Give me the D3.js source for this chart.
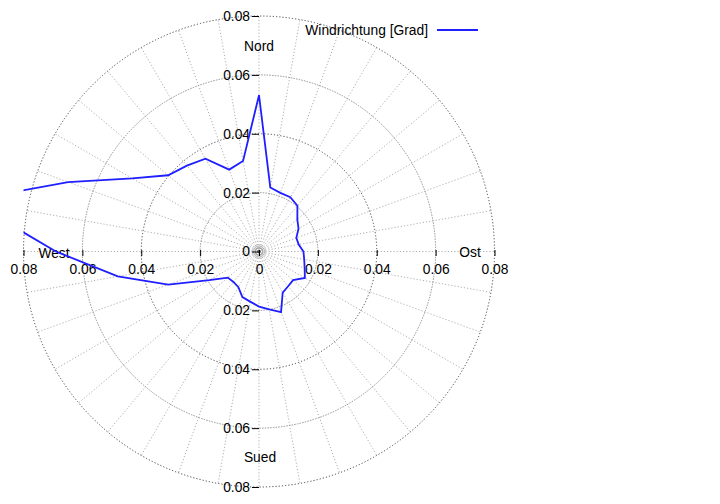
<!DOCTYPE html>
<html>
<head>
<meta charset="utf-8">
<script src="https://cdn.jsdelivr.net/npm/d3@7"></script>
<style>
    html, body { margin: 0; padding: 0; background: #fff; }
    svg { display: block; font-family: 'Liberation Sans', Arial, sans-serif; }
    .axis text { font-size: 13.8px; fill: #000; }
    .axis line { stroke: #000; }
</style>
</head>
<body>
<svg width="720" height="504"></svg>
<script>
// wind direction (degrees, clockwise from north) and relative frequency
const directions = [0, 10, 20, 30, 40, 50, 60, 70, 80, 90, 100, 110,
    120, 130, 140, 150, 160, 170, 180, 190, 200, 210, 220, 230,
    240, 250, 260, 270, 280, 290, 300, 310, 320, 330, 340, 350];
const frequency = [0.0531, 0.0221, 0.0212, 0.0213, 0.0203, 0.0170, 0.0155, 0.0135, 0.0137, 0.0151, 0.0156, 0.0165,
    0.0180, 0.0151, 0.0154, 0.0161, 0.0219, 0.0200, 0.0187, 0.0173, 0.0165, 0.0140, 0.0135, 0.0138,
    0.0195, 0.0328, 0.0487, 0.0690, 0.1000, 0.0690, 0.0497, 0.0403, 0.0381, 0.0364, 0.0296, 0.0312];
const ringTicks = [0.02, 0.04, 0.06, 0.08];
const axisTicks = [-0.08, -0.06, -0.04, -0.02, 0, 0.02, 0.04, 0.06, 0.08];
const compass = [
    {name: 'Nord', dx: 0, dy: -205},
    {name: 'Ost', dx: 211, dy: 0.5},
    {name: 'West', dx: -205, dy: 1.5},
    {name: 'Sued', dx: 1, dy: 206}
];
const seriesName = 'Windrichtung [Grad]';

(function () {
    'use strict'

    const cx = 259, cy = 251.5, R = 235.5, RMAX = 0.08;

    let svg = d3.select('svg');

    // r() maps frequency to pixel radius
    let r = d3.scaleLinear().domain([0, RMAX]).range([0, R]);
    // cartesian scales for the two axes through the centre
    let x = d3.scaleLinear().domain([-RMAX, RMAX]).range([cx - R, cx + R]);
    let y = d3.scaleLinear().domain([-RMAX, RMAX]).range([cy + R, cy - R]);

    svg.append('defs').append('clipPath')
        .attr('id', 'box')
        .append('rect')
        .attr('x', x(-RMAX)).attr('y', y(RMAX))
        .attr('width', x(RMAX) - x(-RMAX))
        .attr('height', y(-RMAX) - y(RMAX));

    let g = svg.append('g').attr('transform', 'translate(' + cx + ',' + cy + ')');

    // radial grid, every 10 degrees
    g.selectAll('line.spoke')
        .data(directions)
        .enter()
        .append('line')
        .attr('class', 'spoke')
        .attr('x1', 0).attr('y1', 0)
        .attr('x2', d => r(RMAX) * Math.sin(d * Math.PI / 180))
        .attr('y2', d => -r(RMAX) * Math.cos(d * Math.PI / 180))
        .style('stroke', '#9a9a9a')
        .style('stroke-width', 0.8)
        .style('stroke-dasharray', '1.2,2');

    g.selectAll('circle.ring')
        .data(ringTicks)
        .enter()
        .append('circle')
        .attr('class', 'ring')
        .attr('r', d => r(d))
        .style('fill', 'none')
        .style('stroke', (d, i) => i % 2 ? '#333' : '#888')
        .style('stroke-width', 0.9)
        .style('stroke-dasharray', (d, i) => i % 2 ? '1.2,2' : '1.5,1.2');

    // small rings around the origin
    g.selectAll('circle.hub')
        .data([1.5, 3.5, 5.5])
        .enter()
        .append('circle')
        .attr('r', d => d)
        .style('fill', 'none')
        .style('stroke', (d, i) => i ? '#999' : '#333')
        .style('stroke-width', 0.8);

    let fmt = d => d === 0 ? '0' : d3.format('.2f')(Math.abs(d));

    svg.append('g')
        .attr('class', 'axis')
        .attr('transform', 'translate(' + cx + ',0)')
        .call(d3.axisLeft(y).tickValues(axisTicks).tickFormat(fmt).tickSize(7).tickPadding(2))
        .call(a => a.select('.domain').remove());

    svg.append('g')
        .attr('class', 'axis')
        .attr('transform', 'translate(0,' + (cy - 1.5) + ')')
        .call(d3.axisBottom(x).tickValues(axisTicks).tickFormat(fmt).tickSize(6).tickPadding(8))
        .call(a => a.select('.domain').remove());

    g.selectAll('text.dir')
        .data(compass)
        .enter()
        .append('text')
        .attr('class', 'dir')
        .attr('x', d => d.dx)
        .attr('y', d => d.dy)
        .attr('text-anchor', 'middle')
        .attr('dominant-baseline', 'central')
        .style('font-size', '13.8px')
        .text(d => d.name);

    let points = directions.map((d, i) => [d * Math.PI / 180, frequency[i]]);

    let line = d3.lineRadial()
        .angle(d => d[0])
        .radius(d => r(d[1]))
        .curve(d3.curveLinearClosed);

    svg.append('g')
        .attr('clip-path', 'url(#box)')
        .append('path')
        .attr('transform', 'translate(' + cx + ',' + cy + ')')
        .datum(points)
        .attr('d', line)
        .style('fill', 'none')
        .style('stroke', '#1f1fff')
        .style('stroke-width', 1.8)
        .style('stroke-linejoin', 'miter');

    // legend
    let legend = svg.append('g').attr('transform', 'translate(428,30)');
    legend.append('text')
        .attr('text-anchor', 'end')
        .attr('dominant-baseline', 'central')
        .style('font-size', '13.8px')
        .text(seriesName);
    legend.append('line')
        .attr('x1', 9).attr('x2', 50)
        .style('stroke', '#1f1fff')
        .style('stroke-width', 1.8);
})();
</script>
</body>
</html>
